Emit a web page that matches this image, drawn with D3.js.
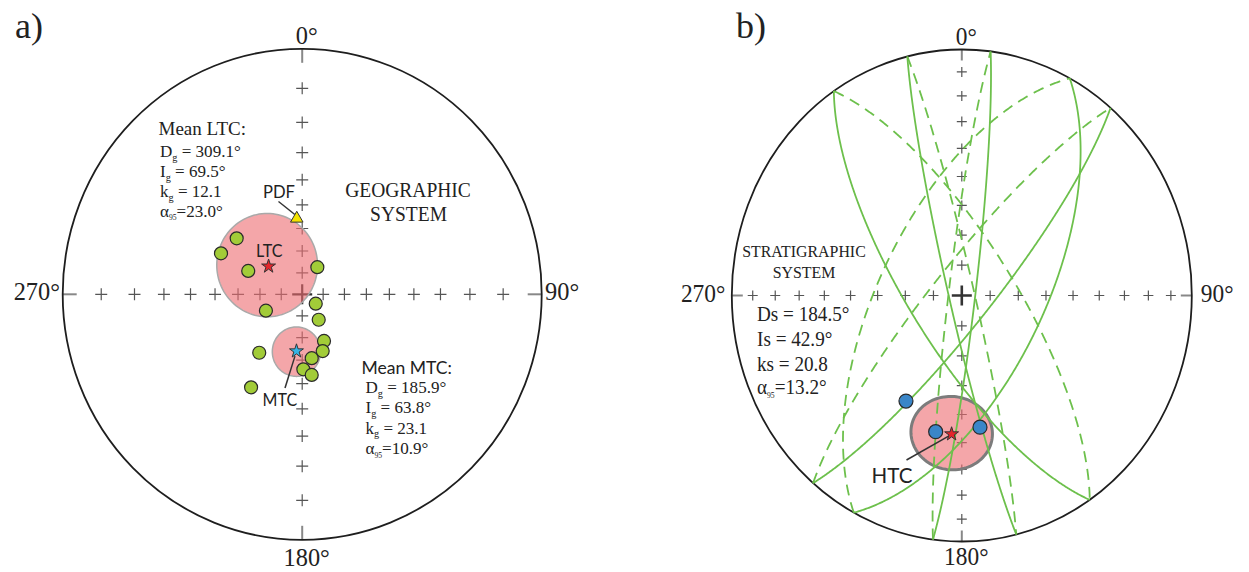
<!DOCTYPE html>
<html><head><meta charset="utf-8">
<script src="https://cdn.jsdelivr.net/npm/d3@7"></script>
<style>body{margin:0;background:#fff;} svg{display:block;background:#fff}</style>
</head><body>
<svg id="c" width="1249" height="572"></svg>
<script>
// ---------------- DATA ----------------
// a) geographic system, stereographic net (declination, inclination)
const ltcDirections = [[309.8,50.8],[296.2,48.6],[292.9,62.5],[29.8,75.5],[246.2,71.2]];
const mtcDirections = [[124.0,82.2],[146.4,75.8],[154.4,66.2],[159.7,62.3],[171.3,60.5],[179.1,56.0],[173.1,53.4],[217.0,56.8],[209.4,43.0]];
const ltcMean = [309.1, 69.5];   // Dg, Ig
const ltcStats = ["309.1°", "69.5°", "12.1", "23.0°"];
const ltcA95 = 23.0;
const mtcMean = [185.9, 63.8];
const mtcStats = ["185.9°", "63.8°", "23.1", "10.9°"];
const mtcA95 = 10.9;
const pdfDirection = [355.8, 55.6];
// b) stratigraphic system, equal-area net
const htcDirections = [[209.5,49.2],[191.6,42.9],[171.6,45.0]];
const htcMean = [184.5, 42.9];
const htcStats = ["184.5°", "42.9°", "20.8", "13.2°"];
const htcA95 = 13.2;
// remagnetization great circles: dip direction, dip
const circleDipDir = [236.2, 256.3, 97.2, 118.0, 130.3];
const circleDip    = [72.0, 85.5, 85.3, 61.3, 80.0];
// net ticks
const tickInclinations = [80,70,60,50,40,30,20,10];
const axisAzimuths = [0, 90, 180, 270];
const compassLabels = ["0°", "90°", "180°", "270°"];

// ---------------- HELPERS ----------------
const rad = Math.PI/180;
const svg = d3.select('#c');
const SERIF = '"Liberation Serif", "Times New Roman", serif';
const SANS = 'Lato, "Open Sans", sans-serif';
function vec(dec, inc){ return [Math.cos(inc*rad)*Math.cos(dec*rad), Math.cos(inc*rad)*Math.sin(dec*rad), Math.sin(inc*rad)]; }
function cross(a,b){ return [a[1]*b[2]-a[2]*b[1], a[2]*b[0]-a[0]*b[2], a[0]*b[1]-a[1]*b[0]]; }
function dirOf(v){ const n=Math.hypot(v[0],v[1],v[2]); return [(Math.atan2(v[1],v[0])/rad+360)%360, Math.asin(v[2]/n)/rad]; }
const stereo = inc => Math.tan((90-Math.abs(inc))/2*rad);
const equalArea = inc => Math.SQRT2*Math.sin((90-Math.abs(inc))/2*rad);

function makeNet(cx, cy, rx, ry, radial){
  const x = d3.scaleLinear().domain([-1,1]).range([cx-rx, cx+rx]);
  const y = d3.scaleLinear().domain([-1,1]).range([cy+ry, cy-ry]);
  const proj = (dec, inc) => { const r = radial(inc); return [x(r*Math.sin(dec*rad)), y(r*Math.cos(dec*rad))]; };
  return {x, y, proj, cx, cy, rx, ry, sx: rx/ry};
}
function conePts(mean, a95){
  const m = vec(mean[0], mean[1]), u = vec(mean[0], mean[1]-90), v = cross(m,u);
  const pts = [];
  for(let i=0;i<=360;i+=3){
    const p = i*rad, ca = Math.cos(a95*rad), sa = Math.sin(a95*rad);
    pts.push(dirOf([0,1,2].map(k => ca*m[k] + sa*(Math.cos(p)*u[k] + Math.sin(p)*v[k]))));
  }
  return pts;
}
function greatCirclePts(dd, dip){
  const s = vec(dd-90, 0), dv = vec(dd, dip), pts = [];
  for(let i=0;i<=360;i++){ const t=i/2*rad; pts.push(dirOf([0,1,2].map(k=>Math.cos(t)*s[k]+Math.sin(t)*dv[k]))); }
  return pts;
}
function txt(g, x, y, s, size, family, anchor, sx){
  return g.append('text').attr('transform',`translate(${x},${y}) scale(${sx},1)`)
    .attr('font-size',size).attr('font-family',family).attr('text-anchor',anchor||'start')
    .attr('fill','#222').text(s);
}
function statLine(g, x, y, sym, sub, rest, size, sx, subSize){
  const t = g.append('text').attr('transform',`translate(${x},${y}) scale(${sx},1)`)
    .attr('font-size',size).attr('font-family',SERIF).attr('fill','#222');
  t.append('tspan').text(sym);
  if(sub){ t.append('tspan').attr('font-size',size*(subSize||0.6)).attr('dy',size*0.22).text(sub);
           t.append('tspan').attr('dy',-size*0.22).text(rest); }
  else t.append('tspan').text(rest);
  return t;
}

function drawNetBase(net, o){
  const g = svg.append('g');
  const crossData = [];
  axisAzimuths.forEach(az => tickInclinations.forEach(inc => crossData.push(net.proj(az, inc))));
  g.selectAll(null).data(crossData).enter().append('path')
    .attr('d', d => `M${d[0]-o.arm},${d[1]}H${d[0]+o.arm}M${d[0]},${d[1]-o.arm}V${d[1]+o.arm}`)
    .attr('stroke', '#555').attr('stroke-width', 1.2).attr('fill','none');
  const c = net.proj(0, 90);
  g.append('path').attr('d', `M${c[0]-o.carm},${c[1]}H${c[0]+o.carm}M${c[0]},${c[1]-o.carm}V${c[1]+o.carm}`)
    .attr('stroke','#333').attr('stroke-width',o.cw);
  axisAzimuths.forEach(az => {
    const p = net.proj(az, 0), ux = Math.sin(az*rad), uy = -Math.cos(az*rad);
    g.append('line').attr('x1',p[0]).attr('y1',p[1]).attr('x2',p[0]-ux*o.edge).attr('y2',p[1]-uy*o.edge)
      .attr('stroke','#888').attr('stroke-width',2);
  });
  g.append('ellipse').attr('cx',net.cx).attr('cy',net.cy).attr('rx',net.rx).attr('ry',net.ry)
    .attr('fill','none').attr('stroke','#1e1e1e').attr('stroke-width',1.8);
  const fs = 25;
  txt(g, net.cx+4.5, net.cy-net.ry-5, compassLabels[0], fs, SERIF, 'middle', net.sx);
  txt(g, net.cx+net.rx+o.gapR, net.cy+6, compassLabels[1], fs, SERIF, 'start', net.sx);
  txt(g, net.cx+4.5, net.cy+net.ry+o.bottom, compassLabels[2], fs, SERIF, 'middle', net.sx);
  txt(g, net.cx-net.rx-o.gapL, net.cy+6, compassLabels[3], fs, SERIF, 'end', net.sx);
  return g;
}
function drawCone(g, net, mean, a95, stroke, sw){
  const line = d3.line().x(d => net.proj(d[0],d[1])[0]).y(d => net.proj(d[0],d[1])[1]);
  g.append('path').attr('d', line(conePts(mean, a95)) + 'Z')
    .attr('fill','#ec6a70').attr('fill-opacity',0.6).attr('stroke',stroke).attr('stroke-width',sw);
}
function drawDots(g, net, dirs, fill, r){
  g.selectAll(null).data(dirs).enter().append('circle')
    .attr('cx', d => net.proj(d[0],d[1])[0]).attr('cy', d => net.proj(d[0],d[1])[1])
    .attr('r', r).attr('fill', fill).attr('stroke','#2a2a2a').attr('stroke-width',1.2);
}
function drawStar(g, net, dir, fill){
  const p = net.proj(dir[0], dir[1]);
  g.append('path').attr('d', d3.symbol(d3.symbolStar, 60)()).attr('transform',`translate(${p[0]},${p[1]})`)
    .attr('fill',fill).attr('stroke','#333').attr('stroke-width',1);
  return p;
}

// ---------------- PANEL a ----------------
const netA = makeNet(302.2, 294.3, 239.5, 245.5, stereo);
const gA = drawNetBase(netA, {arm:6, carm:10, cw:2.2, edge:14, gapR:3.3, gapL:2.7, bottom:26.5});
drawCone(gA, netA, ltcMean, ltcA95, '#a9a9a9', 1.5);
drawCone(gA, netA, mtcMean, mtcA95, '#a9a9a9', 1.5);
drawDots(gA, netA, ltcDirections, '#a2cc38', 6.5);
drawDots(gA, netA, mtcDirections, '#a2cc38', 6.5);
const ltcP = drawStar(gA, netA, ltcMean, '#e3262c');
const mtcP = drawStar(gA, netA, mtcMean, '#35b4e6');
const pdfP = netA.proj(pdfDirection[0], pdfDirection[1]);
gA.append('path').attr('d', d3.symbol(d3.symbolTriangle, 68)()).attr('transform',`translate(${pdfP[0]},${pdfP[1]})`)
  .attr('fill','#f3e300').attr('stroke','#333').attr('stroke-width',1);
gA.append('line').attr('x1',278.5).attr('y1',201.5).attr('x2',pdfP[0]-2).attr('y2',pdfP[1]-4).attr('stroke','#333').attr('stroke-width',1.5);
gA.append('line').attr('x1',285).attr('y1',388).attr('x2',mtcP[0]-1.5).attr('y2',mtcP[1]+5).attr('stroke','#333').attr('stroke-width',1.5);
const sA = netA.sx;
txt(gA, 263, 198, 'PDF', 17, SANS, 'start', sA);
txt(gA, 256, 257, 'LTC', 16.5, SANS, 'start', sA);
txt(gA, 262.5, 406, 'MTC', 16.5, SANS, 'start', sA);
txt(gA, 408, 197, 'GEOGRAPHIC', 20, SERIF, 'middle', sA);
txt(gA, 408.5, 220.5, 'SYSTEM', 20, SERIF, 'middle', sA);
txt(gA, 158.5, 135, 'Mean LTC:', 19.5, SERIF, 'start', sA);
statLine(gA, 160, 157, 'D', 'g', ' = ' + ltcStats[0], 17.5, sA);
statLine(gA, 160, 177, 'I', 'g', ' = ' + ltcStats[1], 17.5, sA);
statLine(gA, 160, 197, 'k', 'g', ' = ' + ltcStats[2], 17.5, sA);
statLine(gA, 160, 216.5, 'α', '95', '=' + ltcStats[3], 17.5, sA, 0.45);
txt(gA, 361.5, 374, 'Mean MTC:', 18, SANS, 'start', sA);
statLine(gA, 365.5, 393, 'D', 'g', ' = ' + mtcStats[0], 17.5, sA);
statLine(gA, 365.5, 413, 'I', 'g', ' = ' + mtcStats[1], 17.5, sA);
statLine(gA, 365.5, 433.5, 'k', 'g', ' = ' + mtcStats[2], 17.5, sA);
statLine(gA, 365.5, 454, 'α', '95', '=' + mtcStats[3], 17.5, sA, 0.45);
txt(svg, 15, 38, 'a)', 36, SERIF, 'start', 1);

// ---------------- PANEL b ----------------
const netB = makeNet(961.8, 295.5, 230, 246, equalArea);
const gB = drawNetBase(netB, {arm:5, carm:10, cw:2.6, edge:11, gapR:9, gapL:6.5, bottom:23.5});
drawCone(gB, netB, htcMean, htcA95, '#7c7c7c', 3);
const gcLine = d3.line().x(d => d[0]).y(d => d[1]).curve(d3.curveLinear);
circleDipDir.forEach((dd, i) => {
  const pts = greatCirclePts(dd, circleDip[i]);
  gB.append('path').attr('d', gcLine(pts.map(d => netB.proj(d[0], d[1]))))
    .attr('fill','none').attr('stroke','#6dc04c').attr('stroke-width',1.8);
  gB.append('path').attr('d', gcLine(pts.map(d => netB.proj(d[0]+180, d[1]))))
    .attr('fill','none').attr('stroke','#6dc04c').attr('stroke-width',1.8).attr('stroke-dasharray','11,7');
});
drawDots(gB, netB, htcDirections, '#3a86c8', 7);
const htcP = drawStar(gB, netB, htcMean, '#e3262c');
gB.append('line').attr('x1',906.5).attr('y1',460).attr('x2',htcP[0]-3).attr('y2',htcP[1]+2).attr('stroke','#333').attr('stroke-width',1.5);
const sB = netB.sx;
txt(gB, 871.5, 483, 'HTC', 22, SANS, 'start', sB);
txt(gB, 804, 257, 'STRATIGRAPHIC', 17, SERIF, 'middle', sB);
txt(gB, 804, 278, 'SYSTEM', 17, SERIF, 'middle', sB);
statLine(gB, 757, 321, 'Ds', null, ' = ' + htcStats[0], 20.5, sB);
statLine(gB, 757, 346, 'Is', null, ' = ' + htcStats[1], 20.5, sB);
statLine(gB, 757, 371, 'ks', null, ' = ' + htcStats[2], 20.5, sB);
statLine(gB, 757, 393.5, 'α', '95', '=' + htcStats[3], 20.5, sB, 0.4);
txt(svg, 736, 38, 'b)', 36, SERIF, 'start', 1);
</script>
</body></html>
